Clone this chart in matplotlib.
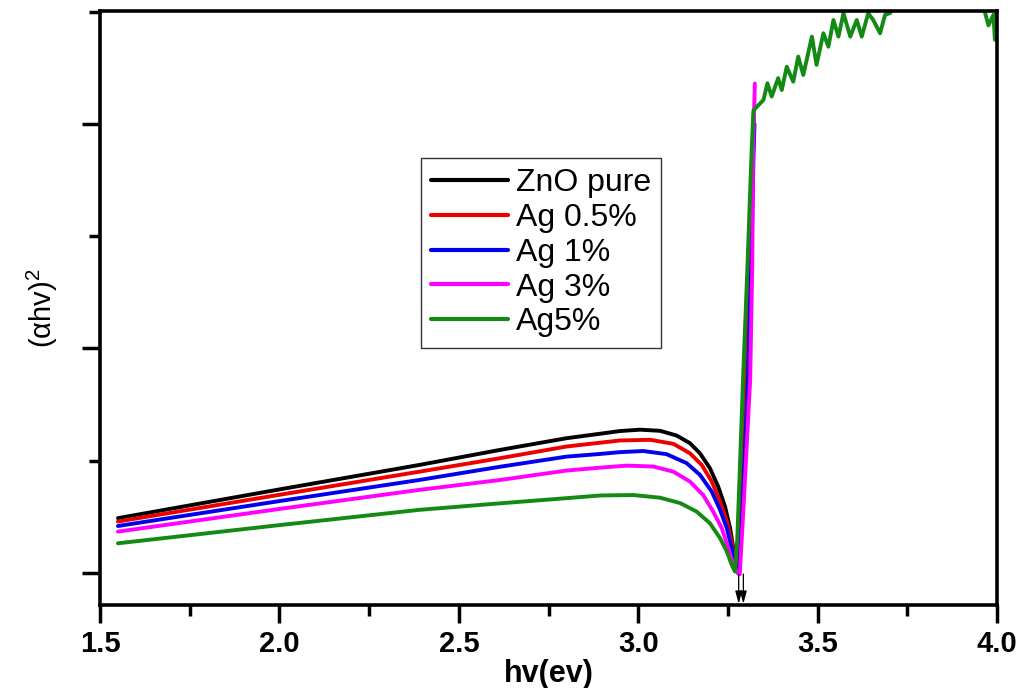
#!/usr/bin/env python3
"""Tauc plot, (alpha h nu)^2 vs photon energy, for pure and Ag-doped ZnO."""

import matplotlib
matplotlib.use("Agg")
import matplotlib.pyplot as plt
from matplotlib.ticker import MultipleLocator

# photon energy (eV) and (alpha h nu)^2 (arb. units) for each sample
hv_zno = [1.55, 2.00, 2.39, 2.615, 2.80, 2.894, 2.949, 3.005, 3.061, 3.107,
          3.144, 3.172, 3.200, 3.223, 3.242, 3.256, 3.265, 3.2725, 3.2762, 3.279,
          3.285, 3.300, 3.312, 3.318, 3.322]
ahv_zno = [2.44, 3.72, 4.81, 5.48, 6.00, 6.20, 6.32, 6.38, 6.33, 6.12,
           5.78, 5.33, 4.66, 3.84, 2.95, 1.99, 1.10, 0.36, 0.09, 0.00,
           2.50, 8.50, 14.0, 18.0, 20.3]

hv_ag05 = [1.55, 2.00, 2.39, 2.615, 2.80, 2.894, 2.949, 3.033, 3.098, 3.144,
           3.177, 3.205, 3.228, 3.247, 3.2605, 3.2697, 3.2745, 3.279, 3.287, 3.302,
           3.314, 3.319, 3.322]
ahv_ag05 = [2.29, 3.48, 4.51, 5.11, 5.63, 5.80, 5.90, 5.93, 5.75, 5.33,
            4.81, 4.07, 3.18, 2.29, 1.39, 0.50, 0.13, -0.02, 2.60, 8.60,
            14.2, 18.2, 20.2]

hv_ag1 = [1.55, 2.00, 2.39, 2.615, 2.80, 2.894, 2.949, 3.014, 3.079, 3.135,
          3.172, 3.205, 3.228, 3.247, 3.2605, 3.2697, 3.276, 3.281, 3.290, 3.306,
          3.316, 3.321, 3.324]
ahv_ag1 = [2.09, 3.20, 4.14, 4.73, 5.18, 5.30, 5.38, 5.43, 5.29, 4.89,
           4.37, 3.62, 2.81, 1.99, 1.10, 0.36, 0.05, -0.05, 2.70, 8.60,
           14.3, 18.4, 20.0]

hv_ag3 = [1.55, 2.00, 2.39, 2.615, 2.80, 2.894, 2.968, 3.042, 3.098, 3.144,
          3.181, 3.209, 3.233, 3.251, 3.265, 3.2745, 3.283, 3.293, 3.312, 3.318,
          3.320, 3.323, 3.325]
ahv_ag3 = [1.84, 2.85, 3.70, 4.14, 4.56, 4.69, 4.78, 4.74, 4.51, 4.07,
           3.47, 2.73, 1.99, 1.10, 0.36, 0.06, -0.06, 2.80, 8.60, 13.9,
           18.8, 20.6, 21.8]

hv_ag5 = [1.55, 2.00, 2.39, 2.615, 2.80, 2.894, 2.986, 3.061, 3.117, 3.163,
          3.200, 3.228, 3.247, 3.2605, 3.2697, 3.276, 3.284, 3.292, 3.304, 3.316,
          3.321, 3.349, 3.360, 3.372, 3.390, 3.400, 3.414, 3.432, 3.446, 3.460,
          3.484, 3.497, 3.516, 3.530, 3.544, 3.558, 3.572, 3.591, 3.609, 3.623,
          3.641, 3.655, 3.674, 3.688, 3.702, 3.720, 3.800, 3.900, 3.958, 3.967,
          3.976, 3.990, 3.994, 3.999, 4.010]
ahv_ag5 = [1.32, 2.13, 2.81, 3.10, 3.33, 3.45, 3.47, 3.35, 3.11, 2.73,
           2.21, 1.55, 0.95, 0.36, 0.06, 1.50, 5.00, 8.60, 13.5, 18.8,
           20.6, 21.07, 21.81, 21.22, 22.04, 21.51, 22.55, 21.88, 23.00, 22.18,
           23.89, 22.63, 24.04, 23.44, 24.63, 23.89, 24.93, 23.89, 24.63, 23.89,
           24.93, 24.63, 24.04, 24.86, 24.94, 26.0, 27.0, 27.5, 26.5, 24.93,
           24.39, 24.86, 23.75, 24.93, 26.0]

series = [
    ("ZnO pure", hv_zno, ahv_zno, "black"),
    ("Ag 0.5%", hv_ag05, ahv_ag05, "#ee0000"),
    ("Ag 1%", hv_ag1, ahv_ag1, "#0000ee"),
    ("Ag 3%", hv_ag3, ahv_ag3, "#ff00ff"),
    ("Ag5%", hv_ag5, ahv_ag5, "#138a13"),
]

# band-gap markers (eV)
gap_marks = [3.280, 3.293]

plt.rcParams["font.family"] = ["Liberation Sans", "DejaVu Sans"]
plt.rcParams["mathtext.fontset"] = "custom"
plt.rcParams["mathtext.rm"] = "Liberation Sans"

fig = plt.figure(figsize=(10.3, 6.88), dpi=100)
ax = fig.add_axes([0.0971, 0.1206, 0.8709, 0.8634])

for label, x, y, c in series:
    ax.plot(x, y, color=c, lw=2.8, label=label,
            solid_joinstyle="round", solid_capstyle="round")

for xg in gap_marks:
    ax.annotate("", xy=(xg, -1.38), xytext=(xg, -0.05),
                arrowprops=dict(arrowstyle="-|>,head_length=0.75,head_width=0.2",
                                color="black", lw=0.9, shrinkA=0, shrinkB=0))

ax.set_xlim(1.5, 4.0)
ax.set_ylim(-1.43, 25.03)
ax.xaxis.set_major_locator(MultipleLocator(0.5))
ax.xaxis.set_minor_locator(MultipleLocator(0.25))
ax.yaxis.set_major_locator(MultipleLocator(10))
ax.yaxis.set_minor_locator(MultipleLocator(5))
ax.set_yticklabels([])
ax.tick_params(axis="both", which="major", direction="out", length=13, width=2.5,
               top=False, right=False)
ax.tick_params(axis="both", which="minor", direction="out", length=8, width=2.5,
               top=False, right=False)
ax.tick_params(axis="x", labelsize=21, pad=5)
for lbl in ax.get_xticklabels():
    lbl.set_fontweight("bold")
for sp in ax.spines.values():
    sp.set_linewidth(2.6)

ax.set_xlabel("hv(ev)", fontsize=22, fontweight="bold", labelpad=1)
ax.set_ylabel("(\u03b1hv)$^\\mathregular{2}$", fontsize=21, labelpad=12)

leg = ax.legend(loc="upper left", bbox_to_anchor=(0.358, 0.7525), fontsize=23,
                frameon=True, fancybox=False, handlelength=2.4, handletextpad=0.25,
                labelspacing=0.15, borderpad=0.32, borderaxespad=0)
leg.get_frame().set_edgecolor("black")
leg.get_frame().set_linewidth(1.0)
for h in leg.get_lines():
    h.set_linewidth(3)

fig.savefig("out.png", dpi=100)
